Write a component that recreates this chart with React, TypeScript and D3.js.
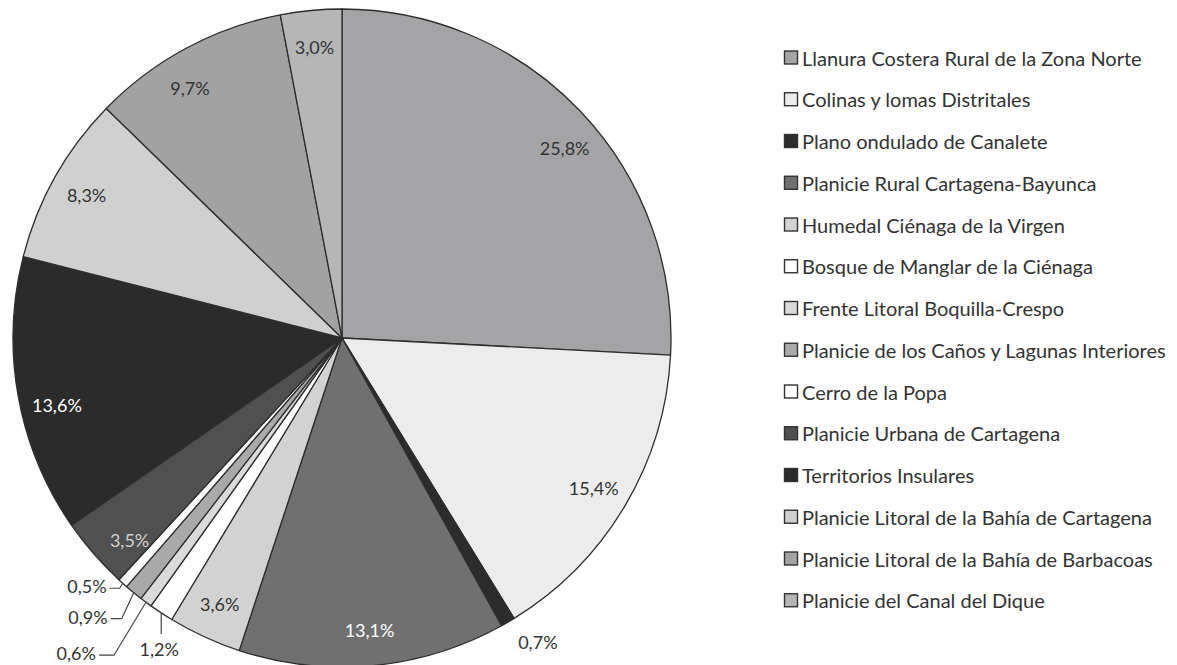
import * as d3 from "d3";
import { useEffect, useRef } from "react";

// slice order (clockwise from 12 o'clock)
const categories = [
  "Llanura Costera Rural de la Zona Norte",
  "Colinas y lomas Distritales",
  "Plano ondulado de Canalete",
  "Planicie Rural Cartagena-Bayunca",
  "Humedal Ciénaga de la Virgen",
  "Bosque de Manglar de la Ciénaga",
  "Frente Litoral Boquilla-Crespo",
  "Planicie de los Caños y Lagunas Interiores",
  "Cerro de la Popa",
  "Planicie Urbana de Cartagena",
  "Territorios Insulares",
  "Planicie Litoral de la Bahía de Cartagena",
  "Planicie Litoral de la Bahía de Barbacoas",
  "Planicie del Canal del Dique",
];

const shares = [25.8, 15.4, 0.7, 13.1, 3.6, 1.2, 0.6, 0.9, 0.5, 3.5, 13.6, 8.3, 9.7, 3.0];

const fills = [
  "#a4a4a6", "#ececec", "#2c2c2c", "#707070", "#d2d2d2", "#ffffff", "#dadada",
  "#a9a9a9", "#ffffff", "#505050", "#2b2b2b", "#d0d0d0", "#a2a2a2", "#b6b6b6",
];

const labelColors = [
  "#333", "#333", "#333", "#fff", "#333", "#333", "#333",
  "#333", "#333", "#cfcfcf", "#fff", "#333", "#333", "#333",
];

// label layout tweaks (relative to the slice's outer mid point)
const leaders: Record<number, { dx: number; dy: number; h: number }> = {
  8: { dx: -3, dy: 5, h: 10 },
  7: { dx: -12, dy: 26, h: 11 },
  6: { dx: -32, dy: 53, h: 15 },
  5: { dx: 0, dy: 21, h: 0 },
};
const outside: Record<number, number> = { 2: 1.1 };
const angleShift: Record<number, number> = { 2: -2.5, 0: 3, 9: -2.5, 10: -3, 12: -3 };

const fmt = (v: number) => v.toFixed(1).replace(".", ",") + "%";

const W = 1177, H = 665;
const cx = 342, cy = 338, R = 329;
const font = "Lato, 'Open Sans', sans-serif";

export default function App() {
  const ref = useRef<SVGSVGElement>(null);

  useEffect(() => {
    const svg = d3.select(ref.current);
    svg.selectAll("*").remove();

    const data = categories.map((c, i) => ({ name: c, value: shares[i], i }));
    const pie = d3.pie<any>().sort(null).value((d) => d.value);
    const arc = d3.arc<any>().innerRadius(0).outerRadius(R);
    const arcs = pie(data);

    const g = svg.append("g").attr("transform", `translate(${cx},${cy})`);

    g.selectAll("path")
      .data(arcs)
      .enter()
      .append("path")
      .attr("d", arc)
      .attr("fill", (d) => fills[d.data.i])
      .attr("stroke", "#2e2e2e")
      .attr("stroke-width", 1.3)
      .attr("stroke-linejoin", "round");

    const polar = (a: number, r: number) => [r * Math.sin(a), -r * Math.cos(a)];

    arcs.forEach((d) => {
      const i = d.data.i;
      const mid = (d.startAngle + d.endAngle) / 2 + ((angleShift[i] || 0) * Math.PI) / 180;
      const txt = fmt(d.data.value);
      if (leaders[i]) {
        const [x0, y0] = polar((d.startAngle + d.endAngle) / 2, R);
        const L = leaders[i];
        const x1 = x0 + L.dx, y1 = y0 + L.dy;
        const x2 = x1 - L.h;
        g.append("polyline")
          .attr("points", `${x0},${y0} ${x1},${y1} ${x2},${y1}`)
          .attr("fill", "none")
          .attr("stroke", "#444")
          .attr("stroke-width", 1.2);
        const t = g.append("text")
          .attr("font-family", font)
          .attr("font-size", 18)
          .attr("fill", "#333")
          .attr("dominant-baseline", "central")
          .text(txt);
        if (L.h === 0) t.attr("x", x1 - 2).attr("y", y1 + 15).attr("text-anchor", "middle");
        else t.attr("x", x2 - 3).attr("y", y1 - 2).attr("text-anchor", "end");
        return;
      }
      const [x, y] = polar(mid, R * (outside[i] || 0.89));
      g.append("text")
        .attr("x", x)
        .attr("y", y)
        .attr("font-family", font)
        .attr("font-size", 18)
        .attr("fill", labelColors[i])
        .attr("text-anchor", "middle")
        .attr("dominant-baseline", "central")
        .text(txt);
    });

    // legend
    const step = 41.75;
    const lg = svg.append("g").attr("transform", "translate(784,57.5)");
    categories.forEach((c, i) => {
      const row = lg.append("g").attr("transform", `translate(0,${i * step})`);
      row.append("rect")
        .attr("x", 0.5)
        .attr("y", -6.5)
        .attr("width", 13)
        .attr("height", 13)
        .attr("fill", fills[i])
        .attr("stroke", "#333")
        .attr("stroke-width", 1.4);
      row.append("text")
        .attr("x", 18)
        .attr("y", 0)
        .attr("font-family", font)
        .attr("font-size", 20)
        .attr("fill", "#333")
        .attr("dominant-baseline", "central")
        .text(c);
    });
  }, []);

  return (
    <svg
      ref={ref}
      width={W}
      height={H}
      style={{ position: "absolute", left: 0, top: 0, background: "#fff" }}
    />
  );
}
